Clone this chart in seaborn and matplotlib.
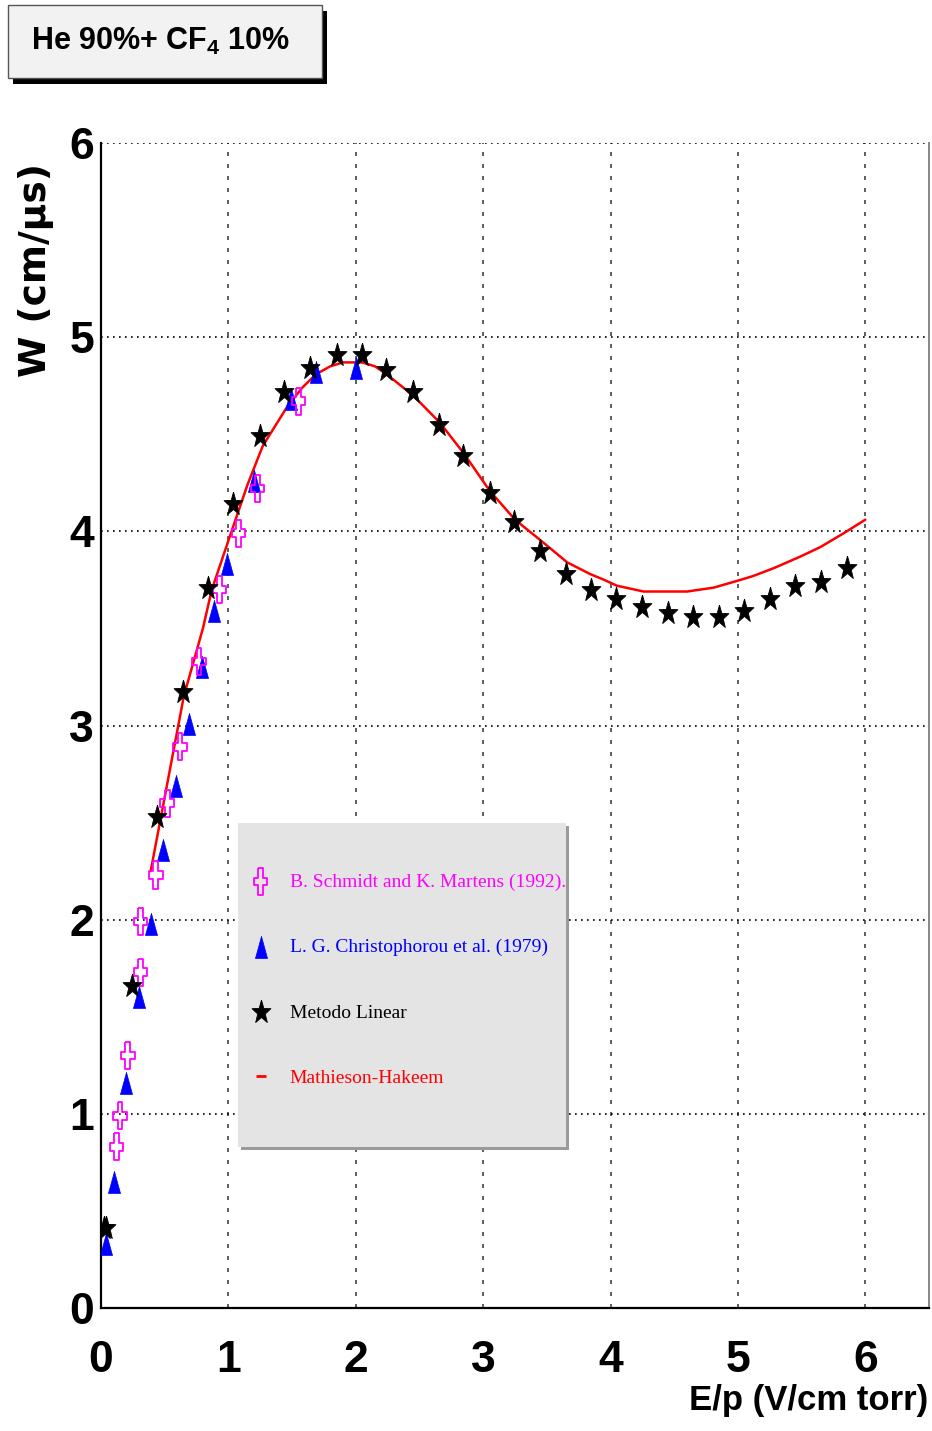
import numpy as np
import pandas as pd
import matplotlib
matplotlib.use("Agg")
import matplotlib.pyplot as plt
from matplotlib import font_manager
from matplotlib.patches import Rectangle
from matplotlib.lines import Line2D
from matplotlib.ticker import MultipleLocator
import seaborn as sns

# ---- drift velocity data, He 90% + CF4 10% ----
schmidt_ep = [0.12, 0.15, 0.21, 0.31, 0.31, 0.43, 0.52, 0.62, 0.77, 0.93, 1.08, 1.23, 1.55]
schmidt_w = [0.83, 0.99, 1.30, 1.73, 1.99, 2.23, 2.60, 2.89, 3.33, 3.70, 3.99, 4.22, 4.67]

christ_ep = [0.04, 0.10, 0.20, 0.30, 0.39, 0.49, 0.59, 0.69, 0.79, 0.89, 0.99, 1.20, 1.49, 1.69, 2.00]
christ_w = [0.33, 0.65, 1.16, 1.60, 1.98, 2.36, 2.69, 3.01, 3.30, 3.59, 3.83, 4.26, 4.68, 4.82, 4.84]

linear_ep = [0.02, 0.04, 0.24, 0.44, 0.64, 0.84, 1.04, 1.25, 1.44, 1.64, 1.85, 2.05, 2.24, 2.45,
             2.65, 2.84, 3.05, 3.24, 3.45, 3.65, 3.85, 4.04, 4.25, 4.45, 4.65, 4.85, 5.05, 5.25,
             5.45, 5.65, 5.86]
linear_w = [0.41, 0.41, 1.66, 2.53, 3.17, 3.71, 4.14, 4.49, 4.72, 4.84, 4.91, 4.91, 4.83, 4.72,
            4.55, 4.39, 4.20, 4.05, 3.90, 3.78, 3.70, 3.65, 3.61, 3.58, 3.56, 3.56, 3.59, 3.65,
            3.72, 3.74, 3.81]

mh_ep = [0.39, 0.65, 0.80, 0.87, 1.03, 1.15, 1.27, 1.46, 1.58, 1.69, 1.80, 1.90, 2.05, 2.15,
         2.24, 2.45, 2.66, 2.85, 3.05, 3.25, 3.42, 3.55, 3.66, 3.84, 3.95, 4.05, 4.26, 4.42,
         4.60, 4.81, 5.02, 5.12, 5.28, 5.49, 5.65, 5.83, 6.00]
mh_w = [2.25, 3.15, 3.50, 3.70, 4.01, 4.24, 4.44, 4.64, 4.74, 4.81, 4.85, 4.87, 4.87, 4.85,
        4.81, 4.70, 4.56, 4.40, 4.21, 4.06, 3.97, 3.90, 3.84, 3.78, 3.75, 3.72, 3.69, 3.69,
        3.69, 3.71, 3.75, 3.77, 3.81, 3.87, 3.92, 3.99, 4.06]

legend_labels = ["B. Schmidt and K. Martens (1992).",
                 "L. G. Christophorou et al. (1979)",
                 "Metodo Linear",
                 "Mathieson-Hakeem"]
legend_colors = ["#ff00ff", "#0000ff", "black", "#ff0000"]

x_ticks = [0, 1, 2, 3, 4, 5, 6]
y_ticks = [0, 1, 2, 3, 4, 5, 6]

# ---- style ----
sns.set_style("white")
installed = {f.name for f in font_manager.fontManager.ttflist}
NARROW = "Liberation Sans Narrow" if "Liberation Sans Narrow" in installed else "Liberation Sans"
plt.rcParams["font.family"] = [NARROW, "DejaVu Sans"]
plt.rcParams["mathtext.fontset"] = "custom"
plt.rcParams["mathtext.rm"] = f"{NARROW}:bold"
plt.rcParams["mathtext.it"] = f"{NARROW}:bold"
plt.rcParams["mathtext.bf"] = f"{NARROW}:bold"
for key in ("text.color", "axes.labelcolor", "xtick.color", "ytick.color"):
    plt.rcParams[key] = "black"

W, H = 932, 1431
fig = plt.figure(figsize=(W / 100, H / 100), dpi=100)
ax = fig.add_axes([101 / W, 123 / H, 828 / W, 1165 / H])

# marker shapes
tri_marker = [(0, 1), (-0.55, -1), (0.55, -1), (0, 1)]
a, tx, ty = 0.5, 0.17, 0.28
cross_marker = [(-tx, 1), (tx, 1), (tx, ty), (a, ty), (a, -ty), (tx, -ty), (tx, -1),
                (-tx, -1), (-tx, -ty), (-a, -ty), (-a, ty), (-tx, ty), (-tx, 1)]
ang = np.pi / 2 + np.arange(10) * np.pi / 5
rad = np.where(np.arange(10) % 2 == 0, 1.0, 0.4)
star_marker = list(zip(0.8 * rad * np.cos(ang), rad * np.sin(ang)))
star_marker.append(star_marker[0])

# fitted curve
sns.lineplot(x=mh_ep, y=mh_w, ax=ax, color="#ff0000", lw=1.8, sort=False,
             estimator=None, zorder=2)

sns.scatterplot(x=christ_ep, y=christ_w, ax=ax, marker=tri_marker, s=250,
                color="#0000ff", edgecolor="#0000ff", linewidth=0.5, zorder=3)
sns.scatterplot(x=schmidt_ep, y=schmidt_w, ax=ax, marker=cross_marker, s=380,
                facecolor="none", edgecolor="#ff00ff", linewidth=1.3, zorder=4)
sns.scatterplot(x=linear_ep, y=linear_w, ax=ax, marker=star_marker, s=320,
                color="black", edgecolor="black", linewidth=0.6, zorder=5)

ax.set_xlim(0, 6.5)
ax.set_ylim(0, 6)
ax.set_xticks(x_ticks)
ax.set_yticks(y_ticks)
ax.set_xticklabels([str(v) for v in x_ticks])
ax.set_yticklabels([str(v) for v in y_ticks])
ax.xaxis.set_minor_locator(MultipleLocator(0.2))
ax.yaxis.set_minor_locator(MultipleLocator(0.2))
ax.tick_params(axis="x", which="both", direction="in", length=12, width=1.2,
               color="#333333", pad=23, labelsize=32, top=False)
ax.tick_params(axis="y", which="both", direction="in", length=9, width=1.2,
               color="#111111", pad=5, labelsize=32, right=False)
for lab in ax.get_xticklabels() + ax.get_yticklabels():
    lab.set_fontweight("bold")

ax.set_axisbelow(True)
ax.xaxis.grid(True, which="major", color="#444444", ls=(0, (2.4, 4.8)), lw=1.2)
ax.yaxis.grid(True, which="major", color="black", ls=(0, (1, 2.6)), lw=1.2)

for side in ("left", "bottom"):
    ax.spines[side].set_color("black")
    ax.spines[side].set_linewidth(1.6)
ax.spines["top"].set_visible(False)
ax.spines["right"].set_color("#888888")
ax.spines["right"].set_linewidth(1.4)

ax.set_xlabel("E/p (V/cm torr)", fontsize=25, fontweight="bold", ha="right", va="center")
ax.xaxis.set_label_coords(0.9988, -0.079)
ax.set_ylabel("W (cm/\u03bcs)", fontsize=27, fontweight="bold",
              family="DejaVu Sans", ha="center", va="center")
ax.yaxis.set_label_coords(-0.079, 0.891)

# legend panel (grey box with thin shadow), entries drawn by fig.legend
lx0, ly0, lx1, ly1 = 238, 823, 566, 1147
fig.add_artist(Rectangle(((lx0 + 3) / W, 1 - (ly1 + 3) / H), (lx1 - lx0) / W, (ly1 - ly0) / H,
                         transform=fig.transFigure, facecolor="#9a9a9a", lw=0, zorder=8))
fig.add_artist(Rectangle((lx0 / W, 1 - ly1 / H), (lx1 - lx0) / W, (ly1 - ly0) / H,
                         transform=fig.transFigure, facecolor="#e4e4e4", lw=0, zorder=9))

handles = [ax.collections[1], ax.collections[0], ax.collections[2],
           Line2D([], [], color="#ff0000", marker="_", ls="none", ms=7, mew=2)]
leg = fig.legend(handles, legend_labels, loc="center left",
                 bbox_to_anchor=(251 / W, 1 - 980 / H), bbox_transform=fig.transFigure,
                 borderaxespad=0, borderpad=0, frameon=False,
                 prop={"family": "Liberation Serif", "size": 14},
                 labelspacing=2.46, handlelength=1.0, handletextpad=1.0,
                 labelcolor=legend_colors, scatterpoints=1)
leg.set_zorder(10)

# title box with drop shadow
bx, by, bw, bh = 8 / W, 1 - 78 / H, 314 / W, 73 / H
fig.add_artist(Rectangle((bx + 5 / W, by - 6 / H), bw, bh, transform=fig.transFigure,
                         facecolor="black", edgecolor="black", lw=0))
fig.add_artist(Rectangle((bx, by), bw, bh, transform=fig.transFigure,
                         facecolor="#f2f2f2", edgecolor="#555555", lw=1))
fig.text(bx + bw / 2 - 0.005, by + bh / 2, r"He 90%+ CF$_4$ 10%", ha="center", va="center",
         fontsize=22, fontweight="bold", family=[NARROW, "DejaVu Sans"])

fig.savefig("out.png", dpi=100)
